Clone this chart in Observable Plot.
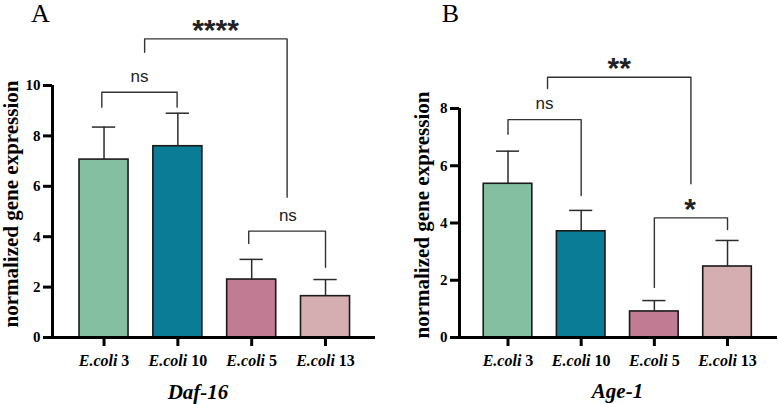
<!DOCTYPE html>
<html><head><meta charset="utf-8">
<script src="https://cdn.jsdelivr.net/npm/d3@7"></script>
<script src="https://cdn.jsdelivr.net/npm/@observablehq/plot@0.6"></script>
<style>
body{margin:0;background:#fff;}
#wrap{display:flex;width:778px;height:404px;overflow:hidden;}
svg{display:block;flex:none;}
</style></head><body><div id="wrap"></div>
<script>
const categories = ["E.coli 3", "E.coli 10", "E.coli 5", "E.coli 13"];
const barColors = ["#83BFA0", "#0B7C96", "#C17B92", "#D5AEB1"];
const daf16Means = [7.06, 7.59, 2.30, 1.64];
const daf16Errors = [1.29, 1.31, 0.80, 0.66];
const age1Means = [5.37, 3.71, 0.91, 2.48];
const age1Errors = [1.14, 0.73, 0.38, 0.91];
const daf16Ticks = [0, 2, 4, 6, 8, 10];
const age1Ticks = [0, 2, 4, 6, 8];
const daf16Brackets = [
  {from: -0.03, to: 0.99, top: 9.73, left: 9.14, right: 9.14, label: "ns", lx: 0.48, ly: 10.36},
  {from: 0.55, to: 2.48, top: 11.85, left: 11.32, right: 5.57, label: "****", lx: 1.51, ly: 12.46},
  {from: 1.96, to: 3.0, top: 4.22, left: 3.73, right: 2.79, label: "ns", lx: 2.49, ly: 4.84}
];
const age1Brackets = [
  {from: 0.0, to: 1.0, top: 7.61, left: 7.10, right: 4.96, label: "ns", lx: 0.50, ly: 8.18},
  {from: 0.54, to: 2.50, top: 9.09, left: 8.70, right: 5.37, label: "**", lx: 1.52, ly: 9.63},
  {from: 2.0, to: 3.0, top: 4.18, left: 1.75, right: 3.77, label: "*", lx: 2.49, ly: 4.73}
];

const serif = "'Liberation Serif', 'Times New Roman', serif";
const sans = "'Liberation Sans', Arial, sans-serif";

function panel(o) {
  const rows = categories.map((c, i) => ({i, c, mean: o.means[i], err: o.errors[i], color: barColors[i]}));
  const half = 0.332, cap = 0.158;
  const pts = o.brackets.flatMap((b, k) => [
    {k, x: b.from, y: b.left}, {k, x: b.from, y: b.top},
    {k, x: b.to, y: b.top}, {k, x: b.to, y: b.right}
  ]);
  const svg = Plot.plot({
    width: o.width, height: 404,
    marginLeft: o.marginLeft, marginRight: o.marginRight,
    marginTop: o.marginTop, marginBottom: o.marginBottom,
    x: {type: "linear", domain: o.xDomain, axis: null},
    y: {domain: [0, o.yMax], axis: null},
    color: {type: "identity"},
    style: {background: "white", overflow: "visible"},
    marks: [
      Plot.rect(rows, {x1: d => d.i - half, x2: d => d.i + half, y1: 0, y2: "mean", fill: "color", stroke: "#1a1a1a", strokeWidth: 1.6}),
      Plot.ruleX(rows, {x: "i", y1: "mean", y2: d => d.mean + d.err, stroke: "#2b2b2b", strokeWidth: 1.5}),
      Plot.ruleY(rows, {y: d => d.mean + d.err, x1: d => d.i - cap, x2: d => d.i + cap, stroke: "#2b2b2b", strokeWidth: 1.5}),
      Plot.line(pts, {x: "x", y: "y", z: "k", stroke: "#333", strokeWidth: 1.4}),
      Plot.text(o.brackets.filter(b => b.label === "ns"), {x: "lx", y: "ly", text: "label", fontSize: 17, fontFamily: sans, fill: "#222"}),
      Plot.text(o.brackets.filter(b => b.label !== "ns"), {x: "lx", y: "ly", text: "label", fontSize: 30, fontWeight: "bold", fontFamily: sans, fill: "#222", dy: 7}),
      Plot.ruleY([0], {x1: o.xDomain[0], x2: o.xDomain[1], stroke: "#000", strokeWidth: 3}),
      Plot.ruleX([o.xDomain[0]], {y1: 0, y2: o.yMax, stroke: "#000", strokeWidth: 3}),
      Plot.axisY(o.ticks, {tickSize: 9, tickPadding: 3, strokeWidth: 3, stroke: "#000", fontSize: 15, fontWeight: "bold", fontFamily: serif, label: null}),
      Plot.axisX([0, 1, 2, 3], {tickSize: 9, tickPadding: 8, strokeWidth: 3, stroke: "#000", tickFormat: i => categories[i], fontSize: 16, fontWeight: "bold", fontFamily: serif, label: null}),
      Plot.text([o.title], {text: d => d, frameAnchor: "bottom", lineAnchor: "middle", textAnchor: "middle", dx: o.xTitleDx, dy: o.xTitleDy, fontSize: 21, fontWeight: "bold", fontStyle: "italic", fontFamily: serif, fill: "#000"}),
      Plot.text(["normalized gene expression"], {text: d => d, frameAnchor: "left", textAnchor: "middle", lineAnchor: "middle", rotate: -90, dx: o.yTitleDx, dy: o.yTitleDy, fontSize: 21, fontWeight: "bold", fontFamily: serif, fill: "#000"}),
      Plot.text([o.letter], {text: d => d, frameAnchor: "top-left", dx: o.letterDx, dy: o.letterDy, textAnchor: "middle", lineAnchor: "middle", fontSize: 26, fontFamily: serif, fill: "#000"})
    ]
  });
  svg.querySelectorAll('[aria-label="x-axis tick label"] text').forEach(t => {
    const s = t.textContent;
    const m = s.match(/^(E\.coli)(.*)$/);
    if (!m) return;
    t.textContent = "";
    const a = document.createElementNS("http://www.w3.org/2000/svg", "tspan");
    a.setAttribute("font-style", "italic");
    a.textContent = m[1];
    const b = document.createElementNS("http://www.w3.org/2000/svg", "tspan");
    b.setAttribute("font-style", "normal");
    b.textContent = m[2];
    t.appendChild(a); t.appendChild(b);
  });
  return svg;
}

const wrap = document.getElementById("wrap");
wrap.appendChild(panel({
  means: daf16Means, errors: daf16Errors, ticks: daf16Ticks, yMax: 10, brackets: daf16Brackets,
  title: "Daf-16", letter: "A", width: 389,
  marginLeft: 52, marginRight: 14, marginTop: 85, marginBottom: 67,
  xDomain: [-0.698, 3.677],
  xTitleDx: -16, xTitleDy: 55, yTitleDx: -41, yTitleDy: -7.5, letterDx: -12, letterDy: -72
}));
wrap.appendChild(panel({
  means: age1Means, errors: age1Errors, ticks: age1Ticks, yMax: 8, brackets: age1Brackets,
  title: "Age-1", letter: "B", width: 389,
  marginLeft: 70, marginRight: 1, marginTop: 108, marginBottom: 67,
  xDomain: [-0.663, 3.683],
  xTitleDx: -1, xTitleDy: 54, yTitleDx: -37, yTitleDy: -8, letterDx: -9, letterDy: -95
}));
</script></body></html>
